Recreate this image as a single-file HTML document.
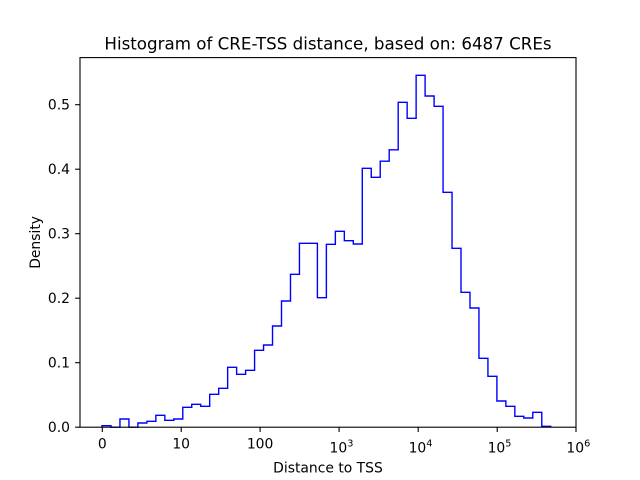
<!DOCTYPE html>
<html>
<head>
<meta charset="utf-8">
<style>
  html, body { margin: 0; padding: 0; background: #ffffff; }
  svg { display: block; }
  text { font-family: "DejaVu Sans", "Liberation Sans", sans-serif; fill: #000; }
</style>
</head>
<body>
<svg width="640" height="480" viewBox="0 0 640 480" xmlns="http://www.w3.org/2000/svg">
  <rect x="0" y="0" width="640" height="480" fill="#ffffff"/>

  <!-- histogram step -->
  <path fill="none" stroke="#0000ff" stroke-width="1.4" stroke-linejoin="miter"
    d="M102,427.2 V425.7 H110.98 V427.2 H119.95 V419 H128.93 V427.2 H137.9 V423 H146.88 V421.3 H155.85 V415.3 H164.83 V420.3 H173.8 V419 H182.78 V407.3 H191.75 V404.3 H200.73 V406.3 H209.7 V394.3 H218.68 V388.3 H227.65 V367.3 H236.63 V374.3 H245.6 V370.3 H254.58 V350.3 H263.55 V345 H272.53 V326 H281.5 V301 H290.48 V274.3 H299.45 V243.3 H317.4 V297.7 H326.38 V244.3 H335.35 V231.3 H344.33 V240.7 H353.3 V244 H362.28 V168.3 H371.25 V177.3 H380.23 V161.2 H389.2 V149.8 H398.18 V102.3 H407.15 V118.3 H416.13 V75.3 H425.1 V96 H434.08 V106.3 H443.05 V192.3 H452.03 V248.3 H461 V292.3 H469.98 V308 H478.95 V358.3 H487.93 V376.3 H496.9 V401 H505.88 V406.3 H514.85 V416.3 H523.83 V418 H532.8 V412.3 H541.78 V426.3 H550.75 V427.2"/>

  <!-- axes frame -->
  <rect x="80" y="57.6" width="496" height="369.6" fill="none" stroke="#000" stroke-width="1.1"/>

  <!-- x ticks -->
  <g stroke="#000" stroke-width="1.1">
    <line x1="102.3" y1="427.2" x2="102.3" y2="432"/>
    <line x1="181.2" y1="427.2" x2="181.2" y2="432"/>
    <line x1="260.1" y1="427.2" x2="260.1" y2="432"/>
    <line x1="339.1" y1="427.2" x2="339.1" y2="432"/>
    <line x1="418.2" y1="427.2" x2="418.2" y2="432"/>
    <line x1="497.2" y1="427.2" x2="497.2" y2="432"/>
    <line x1="576" y1="427.2" x2="576" y2="432"/>
  </g>
  <!-- y ticks -->
  <g stroke="#000" stroke-width="1.1">
    <line x1="75.1" y1="427.2" x2="80" y2="427.2"/>
    <line x1="75.1" y1="362.7" x2="80" y2="362.7"/>
    <line x1="75.1" y1="298.2" x2="80" y2="298.2"/>
    <line x1="75.1" y1="233.7" x2="80" y2="233.7"/>
    <line x1="75.1" y1="169.2" x2="80" y2="169.2"/>
    <line x1="75.1" y1="104.7" x2="80" y2="104.7"/>
  </g>

  <!-- x tick labels -->
  <g font-size="13.9" text-anchor="middle">
    <text x="102.3" y="448.3">0</text>
    <text x="181.2" y="448.3">10</text>
    <text x="260.1" y="448.3">100</text>
  </g>
  <g font-size="13.9">
    <text x="329.5" y="452.3">10<tspan font-size="9.7" dy="-6">3</tspan></text>
    <text x="408.6" y="452.3">10<tspan font-size="9.7" dy="-6">4</tspan></text>
    <text x="487.6" y="452.3">10<tspan font-size="9.7" dy="-6">5</tspan></text>
    <text x="566.4" y="452.3">10<tspan font-size="9.7" dy="-6">6</tspan></text>
  </g>

  <!-- y tick labels -->
  <g font-size="13.9" text-anchor="end">
    <text x="70" y="432.2">0.0</text>
    <text x="70" y="367.7">0.1</text>
    <text x="70" y="303.2">0.2</text>
    <text x="70" y="238.7">0.3</text>
    <text x="70" y="174.2">0.4</text>
    <text x="70" y="109.7">0.5</text>
  </g>

  <!-- axis labels -->
  <text x="328" y="472.5" font-size="13.9" text-anchor="middle">Distance to TSS</text>
  <text x="0" y="0" font-size="13.9" text-anchor="middle" transform="translate(40.2,242.4) rotate(-90)">Density</text>

  <!-- title -->
  <text x="328" y="49.5" font-size="16.7" text-anchor="middle">Histogram of CRE-TSS distance, based on: 6487 CREs</text>
</svg>
</body>
</html>
